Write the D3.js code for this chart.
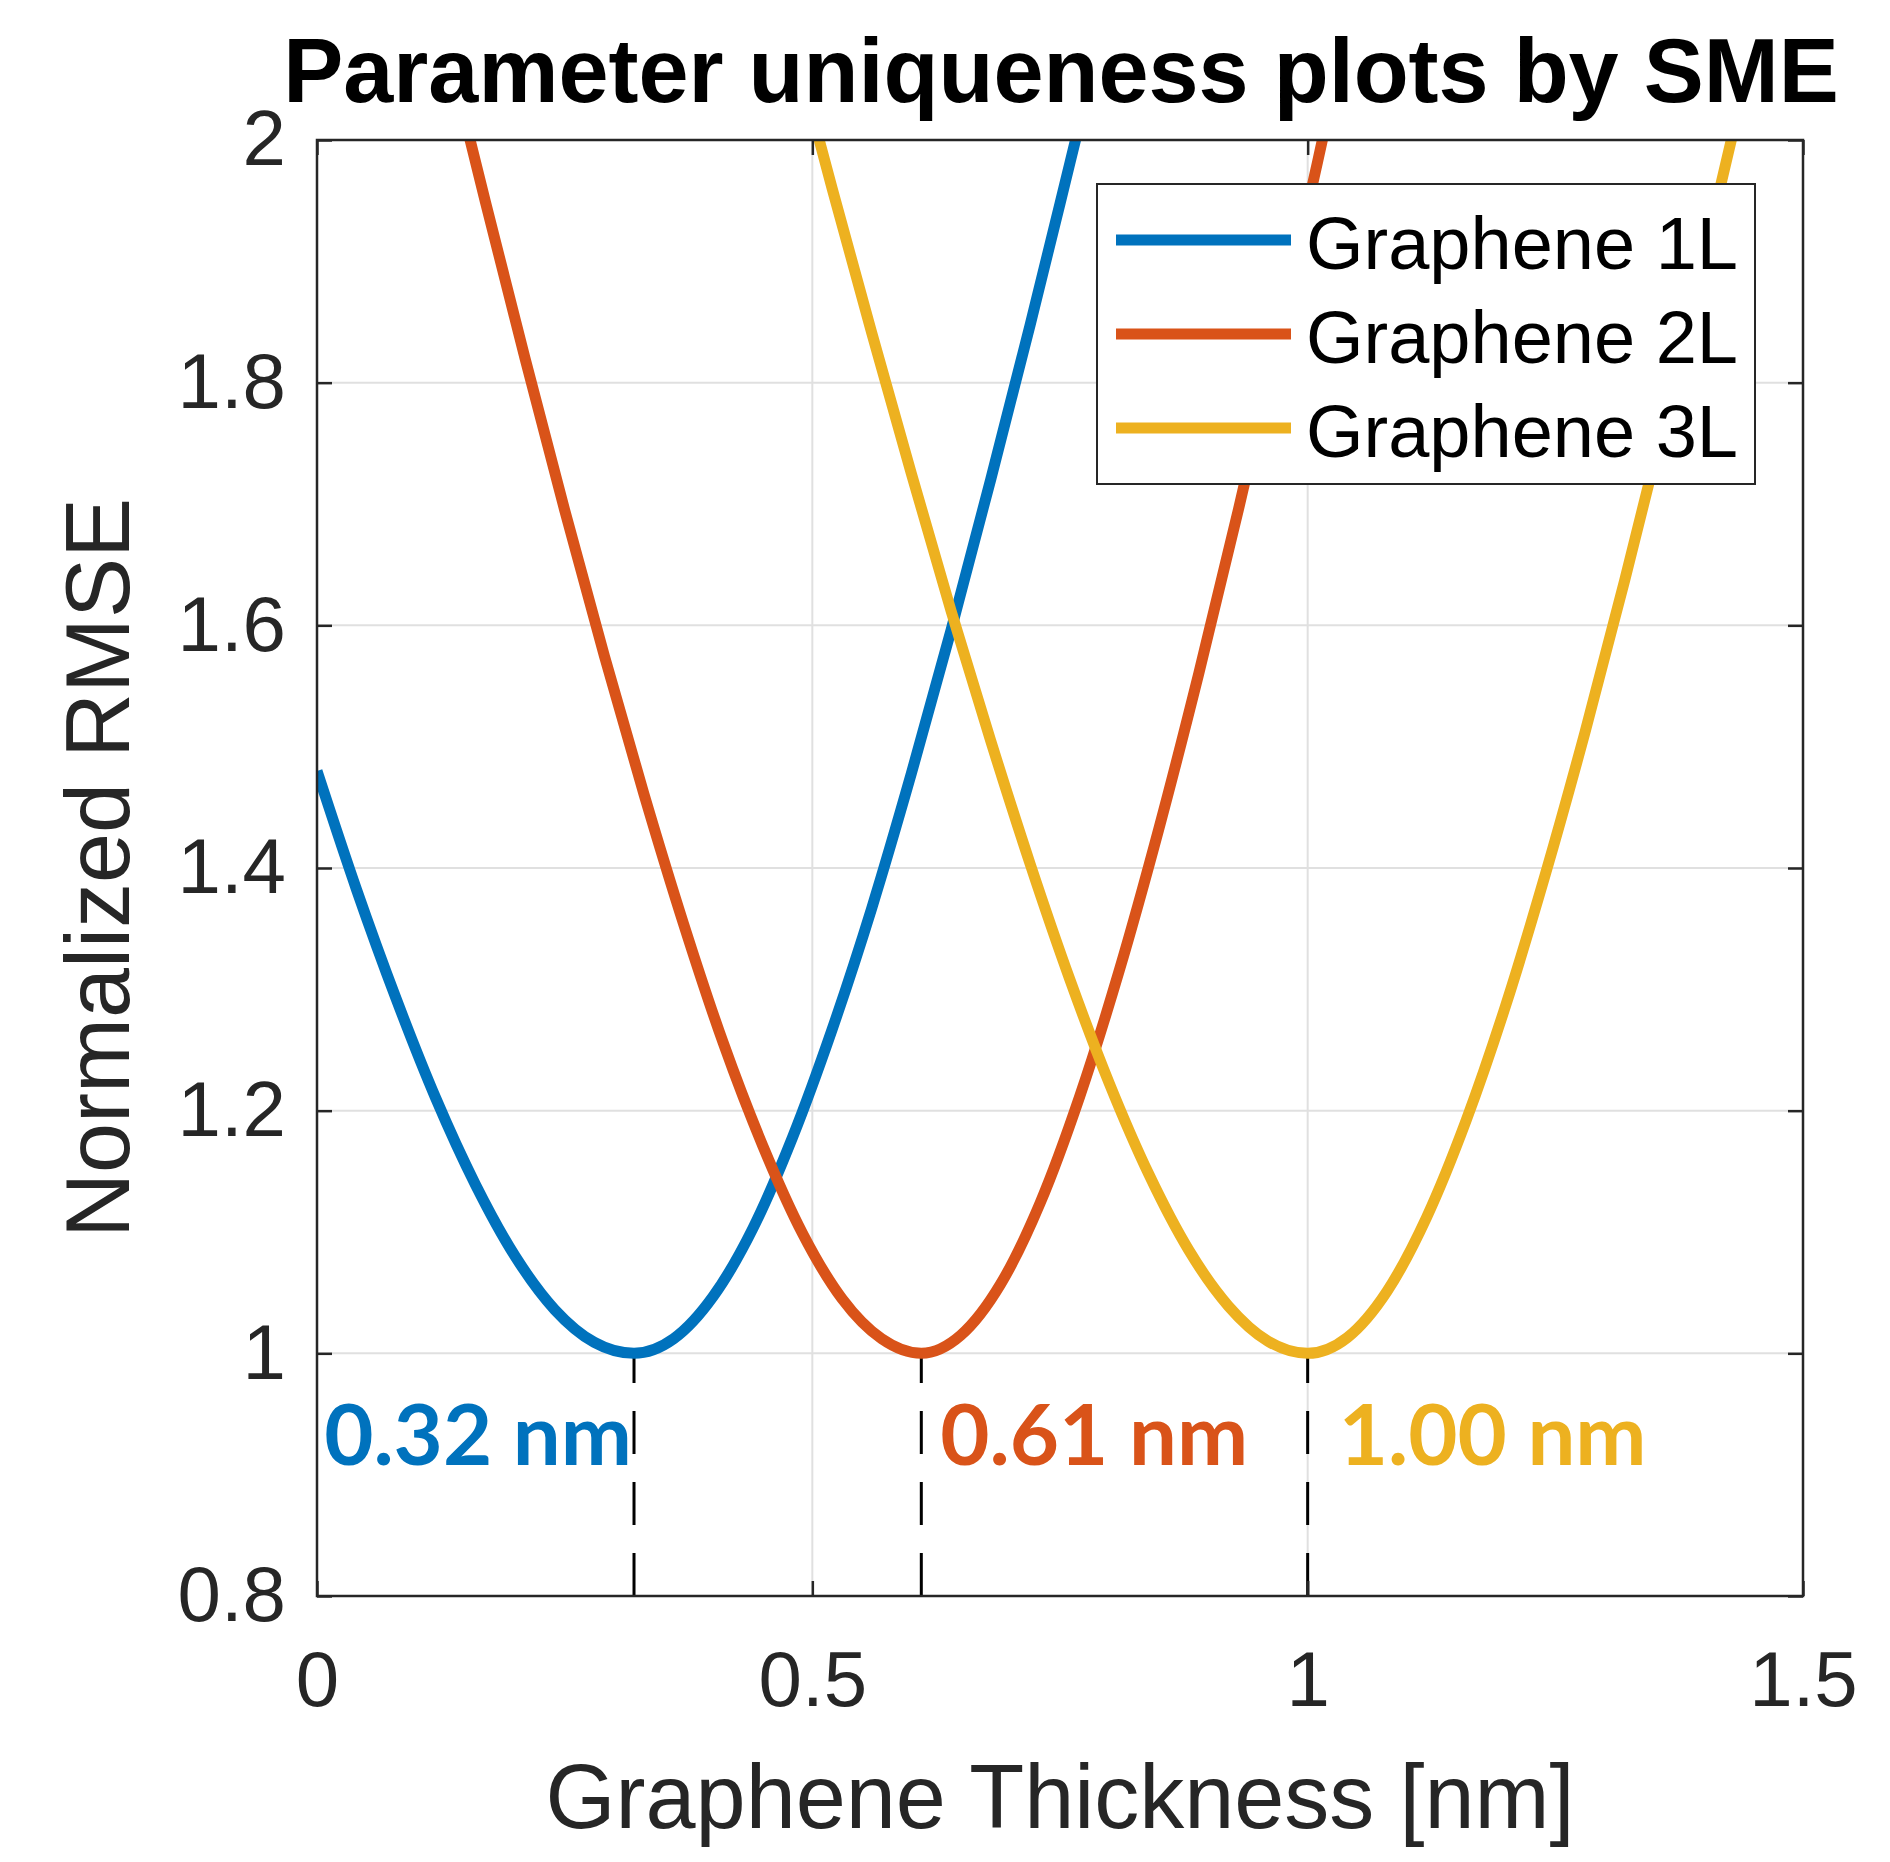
<!DOCTYPE html>
<html>
<head>
<meta charset="utf-8">
<script src="https://d3js.org/d3.v7.min.js"></script>
<style>
    body { margin: 0; background: #fff; }
    svg { display: block; }
</style>
</head>
<body>
<script>
// data
let seriesNames = ["Graphene 1L", "Graphene 2L", "Graphene 3L"];
let seriesColors = ["#0072BD", "#D95319", "#EDB120"];

let x1L = [0, 0.04, 0.08, 0.12, 0.16, 0.20, 0.24, 0.28, 0.32, 0.36, 0.40, 0.44, 0.48, 0.52, 0.56, 0.60, 0.64, 0.68, 0.72, 0.76, 0.80];
let y1L = [1.480, 1.382, 1.292, 1.210, 1.139, 1.080, 1.036, 1.009, 1.000, 1.012, 1.047, 1.103, 1.178, 1.267, 1.367, 1.478, 1.596, 1.720, 1.848, 1.981, 2.115];

let x2L = [0.14, 0.17, 0.21, 0.25, 0.29, 0.33, 0.37, 0.41, 0.45, 0.49, 0.53, 0.57, 0.61, 0.65, 0.69, 0.73, 0.77, 0.81, 0.85, 0.89, 0.93, 0.97, 1.01, 1.05];
let y2L = [2.048, 1.949, 1.820, 1.695, 1.575, 1.461, 1.354, 1.256, 1.171, 1.099, 1.045, 1.012, 1.000, 1.015, 1.057, 1.124, 1.212, 1.316, 1.433, 1.560, 1.695, 1.836, 1.982, 2.131];

let x3L = [0.49, 0.52, 0.56, 0.60, 0.64, 0.68, 0.72, 0.76, 0.80, 0.84, 0.88, 0.92, 0.96, 1.00, 1.04, 1.08, 1.12, 1.16, 1.20, 1.24, 1.28, 1.32, 1.36, 1.40, 1.44];
let y3L = [2.052, 1.960, 1.841, 1.725, 1.612, 1.505, 1.403, 1.308, 1.222, 1.147, 1.085, 1.039, 1.010, 1.000, 1.013, 1.051, 1.112, 1.192, 1.287, 1.395, 1.512, 1.637, 1.768, 1.904, 2.043];

// minima marked with dashed lines and labels
let minX = [0.32, 0.61, 1.00];
let minLabels = ["0.32 nm", "0.61 nm", "1.00 nm"];

let xTicks = [0, 0.5, 1, 1.5];
let yTicks = [0.8, 1, 1.2, 1.4, 1.6, 1.8, 2];

// set the dimensions and margins of the graph
let margin = {top: 140, right: 87, bottom: 266, left: 317},
    width = 1890 - margin.left - margin.right,
    height = 1862 - margin.top - margin.bottom;

let axisColor = "#262626";
let axisFont = "'Liberation Sans', Arial, sans-serif";

// set the ranges
let x = d3.scaleLinear().domain([0, 1.5]).range([0, width]);
let y = d3.scaleLinear().domain([0.8, 2]).range([height, 0]);

let svg = d3.select("body").append("svg")
    .attr("width", 1890)
    .attr("height", 1862);

svg.append("defs").append("clipPath")
    .attr("id", "clip")
    .append("rect")
    .attr("width", width)
    .attr("height", height);

let g = svg.append("g")
    .attr("transform", "translate(" + margin.left + "," + margin.top + ")");

// grid lines
g.append("g").selectAll("line")
    .data(xTicks.slice(1, -1))
    .enter().append("line")
    .attr("x1", d => x(d)).attr("x2", d => x(d))
    .attr("y1", 0).attr("y2", height)
    .attr("stroke", "#e0e0e0")
    .attr("stroke-width", 2);

g.append("g").selectAll("line")
    .data(yTicks.slice(1, -1))
    .enter().append("line")
    .attr("x1", 0).attr("x2", width)
    .attr("y1", d => y(d)).attr("y2", d => y(d))
    .attr("stroke", "#e0e0e0")
    .attr("stroke-width", 2);

// dashed markers from the minimum down to the x axis
g.append("g").selectAll("line")
    .data(minX)
    .enter().append("line")
    .attr("x1", d => x(d)).attr("x2", d => x(d))
    .attr("y1", y(0.8)).attr("y2", y(1))
    .attr("stroke", "#000")
    .attr("stroke-width", 3)
    .attr("stroke-dasharray", "43,28");

// the three curves
let seriesData = [
    x1L.map((v, i) => ({x: v, y: y1L[i]})),
    x2L.map((v, i) => ({x: v, y: y2L[i]})),
    x3L.map((v, i) => ({x: v, y: y3L[i]}))
];

let valueline = d3.line()
    .curve(d3.curveMonotoneX)
    .x(d => x(d.x))
    .y(d => y(d.y));

g.append("g")
    .attr("clip-path", "url(#clip)")
    .selectAll("path")
    .data(seriesData)
    .enter().append("path")
    .attr("d", valueline)
    .attr("fill", "none")
    .attr("stroke", (d, i) => seriesColors[i])
    .attr("stroke-width", 11)
    .attr("stroke-linejoin", "round");

// minimum labels
let labelFont = "Lato, 'Open Sans', sans-serif";
let labelPos = [
    {dx: -2, anchor: "end"},
    {dx: 19, anchor: "start"},
    {dx: 31, anchor: "start"}
];
g.append("g").selectAll("text")
    .data(minLabels)
    .enter().append("text")
    .attr("x", (d, i) => x(minX[i]) + labelPos[i].dx)
    .attr("y", 1465 - margin.top)
    .attr("text-anchor", (d, i) => labelPos[i].anchor)
    .style("font-family", labelFont)
    .style("font-weight", "bold")
    .style("font-size", "85px")
    .style("fill", (d, i) => seriesColors[i])
    .text(d => d);

// axes, MATLAB style: ticks point inwards on all four sides
let yAxis = g.append("g")
    .call(d3.axisLeft(y).tickValues(yTicks).tickFormat(d => String(d))
        .tickSizeInner(-15).tickSizeOuter(0).tickPadding(31));

g.append("g")
    .attr("transform", "translate(" + width + ",0)")
    .call(d3.axisRight(y).tickValues(yTicks).tickFormat("")
        .tickSizeInner(-15).tickSizeOuter(0));

let xAxis = g.append("g")
    .attr("transform", "translate(0," + height + ")")
    .call(d3.axisBottom(x).tickValues(xTicks).tickFormat(d => String(d))
        .tickSizeInner(-15).tickSizeOuter(0).tickPadding(55));

g.append("g")
    .call(d3.axisTop(x).tickValues(xTicks).tickFormat("")
        .tickSizeInner(-15).tickSizeOuter(0));

g.selectAll(".domain").remove();
g.selectAll(".tick line")
    .attr("stroke", axisColor)
    .attr("stroke-width", 2.5);

[xAxis, yAxis].forEach(a => a.selectAll("text")
    .style("font-family", axisFont)
    .style("font-size", "78px")
    .style("fill", axisColor));

// axes box
g.append("rect")
    .attr("width", width)
    .attr("height", height)
    .attr("fill", "none")
    .attr("stroke", axisColor)
    .attr("stroke-width", 2.5);

// legend
let legend = svg.append("g");
legend.append("rect")
    .attr("x", 1097).attr("y", 184)
    .attr("width", 658).attr("height", 300)
    .attr("fill", "#fff")
    .attr("stroke", axisColor)
    .attr("stroke-width", 2);

let rows = legend.selectAll(".row")
    .data(seriesNames)
    .enter().append("g")
    .attr("class", "row")
    .attr("transform", (d, i) => "translate(0," + (240 + i * 94) + ")");

rows.append("line")
    .attr("x1", 1116).attr("x2", 1291)
    .attr("y1", 0).attr("y2", 0)
    .attr("stroke", (d, i) => seriesColors[i])
    .attr("stroke-width", 11);

rows.append("text")
    .attr("x", 1306)
    .attr("y", 29)
    .style("font-family", axisFont)
    .style("font-size", "74px")
    .style("fill", "#000")
    .text(d => d);

// text label for the x axis
svg.append("text")
    .attr("x", margin.left + width / 2)
    .attr("y", 1828)
    .attr("text-anchor", "middle")
    .style("font-family", axisFont)
    .style("font-size", "90px")
    .style("fill", axisColor)
    .text("Graphene Thickness [nm]");

// text label for the y axis
svg.append("text")
    .attr("transform", "translate(129," + (margin.top + height / 2) + ") rotate(-90)")
    .attr("text-anchor", "middle")
    .style("font-family", axisFont)
    .style("font-size", "90px")
    .style("fill", axisColor)
    .text("Normalized RMSE");

// title
svg.append("text")
    .attr("x", 1061)
    .attr("y", 102)
    .attr("text-anchor", "middle")
    .style("font-family", axisFont)
    .style("font-weight", "bold")
    .style("font-size", "90px")
    .style("fill", "#000")
    .text("Parameter uniqueness plots by SME");
</script>
</body>
</html>
